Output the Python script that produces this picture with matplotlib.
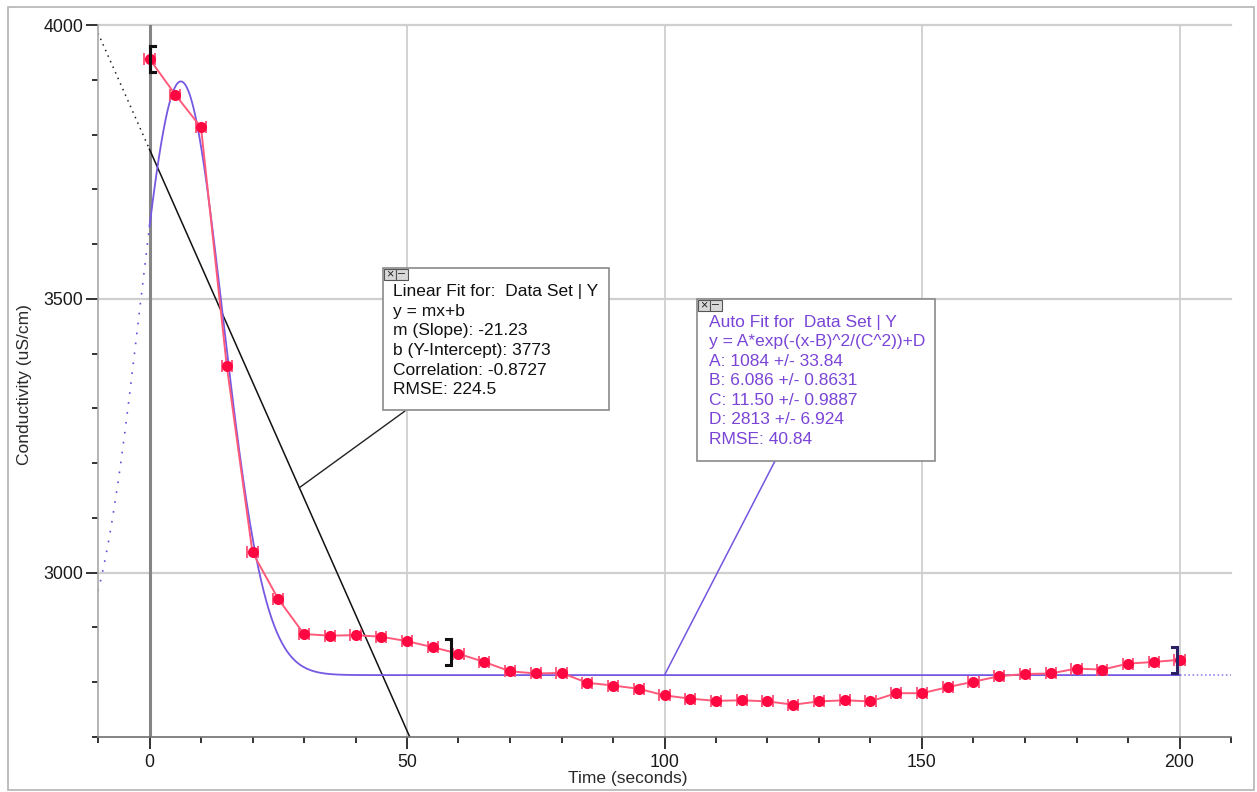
import numpy as np
import matplotlib
matplotlib.use("Agg")
import matplotlib.pyplot as plt
from matplotlib.patches import Rectangle, ConnectionPatch

plt.rcParams['font.family'] = ['Liberation Sans', 'DejaVu Sans']

# ---- data -------------------------------------------------------------
time_s = [0, 5, 10, 15, 20, 25, 30, 35, 40, 45, 50, 55, 60, 65, 70, 75, 80,
          85, 90, 95, 100, 105, 110, 115, 120, 125, 130, 135, 140, 145, 150,
          155, 160, 165, 170, 175, 180, 185, 190, 195, 200]
conductivity = [3938, 3873, 3813, 3378, 3037, 2952, 2888, 2885, 2886, 2883,
                2875, 2864, 2852, 2837, 2820, 2816, 2817, 2799, 2794, 2788,
                2776, 2770, 2766, 2767, 2765, 2759, 2765, 2767, 2765, 2780,
                2780, 2791, 2801, 2811, 2815, 2816, 2825, 2823, 2834, 2837,
                2841]
time_err = 1.0

# linear fit y = m x + b
lin_m, lin_b = -21.23, 3773
lin_corr, lin_rmse = -0.8727, 224.5
# gaussian fit y = A exp(-(x-B)^2/C^2) + D
gA, gA_err = 1084, 33.84
gB, gB_err = 6.086, 0.8631
gC, gC_err = 11.50, 0.9887
gD, gD_err = 2813, 6.924
g_rmse = 40.84

# selected ranges of each fit
linear_range = (0, 58.6)
auto_range = (0, 199.6)

x_ticks = [0, 50, 100, 150, 200]
y_ticks = [3000, 3500, 4000]
x_limits = (-10, 210)
y_limits = (2700, 4000)


def linear(x):
    return lin_m * np.asarray(x) + lin_b


def gauss(x):
    x = np.asarray(x, dtype=float)
    return gA * np.exp(-(x - gB) ** 2 / gC ** 2) + gD


# ---- figure -----------------------------------------------------------
W, H = 1257, 792
fig = plt.figure(figsize=(W / 100, H / 100), dpi=100)


def fx(px):
    return px / W


def fy(py):
    return 1 - py / H


# outer frame
fig.add_artist(Rectangle((fx(8), fy(790)), fx(1254) - fx(8), fy(7) - fy(790),
                         transform=fig.transFigure, fill=False,
                         edgecolor='#b4b4b4', lw=1.2))

ax = fig.add_axes([fx(98), fy(737), fx(1231) - fx(98), fy(25) - fy(737)])
ax.set_xlim(*x_limits)
ax.set_ylim(*y_limits)

for s in ('top', 'right'):
    ax.spines[s].set_visible(False)
ax.spines['left'].set_color('#a8a8a8')
ax.spines['bottom'].set_color('#707070')
ax.spines['left'].set_linewidth(1.2)
ax.spines['bottom'].set_linewidth(1.2)

ax.set_xticks(x_ticks)
ax.set_xticks(np.arange(x_limits[0], x_limits[1] + 1, 10), minor=True)
ax.set_yticks(y_ticks)
ax.set_yticks(np.arange(y_limits[0], y_limits[1] + 1, 100), minor=True)
ax.tick_params(which='major', length=8.5, width=1.2, color='#111',
               labelsize=12.8, labelcolor='#1a1a1a', pad=2)
ax.tick_params(which='minor', length=4, width=1.2, color='#111')
ax.tick_params(axis='x', which='major', pad=4)

# grid
for xv in x_ticks[1:]:
    ax.axvline(xv, color='#cfcfcf', lw=1.3, zorder=0)
for yv in y_ticks:
    ax.axhline(yv, color='#cfcfcf', lw=1.6, zorder=0, clip_on=False)
ax.axvline(0, color='#858585', lw=2.2, zorder=1)

# linear fit
xl_dot = np.linspace(x_limits[0], 0, 50)
ax.plot(xl_dot, linear(xl_dot), color='#222', lw=1.1,
        linestyle=(0, (1, 3)), zorder=2)
xl = np.linspace(0, 60, 50)
ax.plot(xl, linear(xl), color='#111', lw=1.1, zorder=2)

# gaussian fit
xg_pre = np.linspace(x_limits[0], 0, 200)
ax.plot(xg_pre, gauss(xg_pre), color='#6a4ad8', lw=1.2,
        linestyle=(0, (1, 5)), zorder=2)
xg = np.linspace(0, 200, 1200)
ax.plot(xg, gauss(xg), color='#7658e2', lw=1.3, zorder=3)
xg_post = np.linspace(200, x_limits[1], 40)
ax.plot(xg_post, gauss(xg_post), color='#9a86e8', lw=1.2,
        linestyle=(0, (1, 1.5)), zorder=2)

# measured data
ax.plot(time_s, conductivity, color='#ff5a7a', lw=1.4, zorder=4)
ax.errorbar(time_s, conductivity, xerr=time_err, fmt='none',
            ecolor='#ff4d74', elinewidth=1.5, capsize=4.2, capthick=1.3,
            zorder=5)
ax.plot(time_s, conductivity, 'o', color='#ff0842', markersize=8,
        markeredgewidth=0, zorder=6)


# range brackets
def bracket(xb, side, color):
    yc = np.interp(xb, time_s, conductivity)
    h = 23
    cap = 1.1 if side == 'left' else -1.1
    ax.plot([xb + cap, xb, xb, xb + cap], [yc + h, yc + h, yc - h, yc - h],
            color=color, lw=2.2, solid_joinstyle='miter', zorder=7,
            clip_on=False)


bracket(auto_range[0], 'left', '#2d1f66')
bracket(auto_range[1], 'right', '#2d1f66')
bracket(linear_range[0], 'left', '#111')
bracket(linear_range[1], 'right', '#111')

# axis labels
fig.text(fx(628), fy(778), 'Time (seconds)', ha='center', va='center',
         fontsize=12.5, color='#2a2a2a')
fig.text(fx(25), fy(385), 'Conductivity (uS/cm)', ha='center', va='center',
         rotation=90, fontsize=12.5, color='#2a2a2a')


# fit info boxes
def info_box(x0, y0, x1, y1, lines, color, text_x, first_y, step):
    fig.add_artist(Rectangle((fx(x0), fy(y1)), fx(x1) - fx(x0),
                             fy(y0) - fy(y1), transform=fig.transFigure,
                             facecolor='white', edgecolor='#8a8a8a',
                             lw=1.2, zorder=10))
    for i, sym in enumerate(['×', '–']):
        bx = x0 + 1 + i * 12
        fig.add_artist(Rectangle((fx(bx), fy(y0 + 12)), fx(12) - fx(0),
                                 fy(y0 + 1) - fy(y0 + 12),
                                 transform=fig.transFigure,
                                 facecolor='#d8d8d8', edgecolor='#555',
                                 lw=0.8, zorder=11))
        fig.text(fx(bx + 6), fy(y0 + 6.5), sym, ha='center', va='center',
                 fontsize=9, color='#222', zorder=12)
    for i, t in enumerate(lines):
        fig.text(fx(text_x), fy(first_y + i * step), t, ha='left',
                 va='center', fontsize=12.5, color=color, zorder=12)


lin_lines = ['Linear Fit for:  Data Set | Y',
             'y = mx+b',
             f'm (Slope): {lin_m:.2f}',
             f'b (Y-Intercept): {lin_b}',
             f'Correlation: {lin_corr}',
             f'RMSE: {lin_rmse}']
auto_lines = ['Auto Fit for  Data Set | Y',
              'y = A*exp(-(x-B)^2/(C^2))+D',
              f'A: {gA} +/- {gA_err:.2f}',
              f'B: {gB:.3f} +/- {gB_err:.4f}',
              f'C: {gC:.2f} +/- {gC_err:.4f}',
              f'D: {gD} +/- {gD_err:.3f}',
              f'RMSE: {g_rmse:.2f}']

info_box(383, 268, 609, 410, lin_lines, '#111', 393, 291.5, 19.7)
info_box(697, 299, 935, 461, auto_lines, '#7a45d6', 709, 322, 19.6)

# leader lines from boxes to their curves
lin_anchor = 29.1
auto_anchor = 100
fig.add_artist(ConnectionPatch(xyA=(fx(405), fy(411)), coordsA=fig.transFigure,
                               xyB=(lin_anchor, float(linear(lin_anchor))),
                               coordsB=ax.transData, color='#222', lw=1.0,
                               zorder=9))
fig.add_artist(ConnectionPatch(xyA=(fx(775), fy(461)), coordsA=fig.transFigure,
                               xyB=(auto_anchor, float(gauss(auto_anchor))),
                               coordsB=ax.transData, color='#7455e0', lw=1.1,
                               zorder=9))

fig.savefig('out.png', dpi=100)
